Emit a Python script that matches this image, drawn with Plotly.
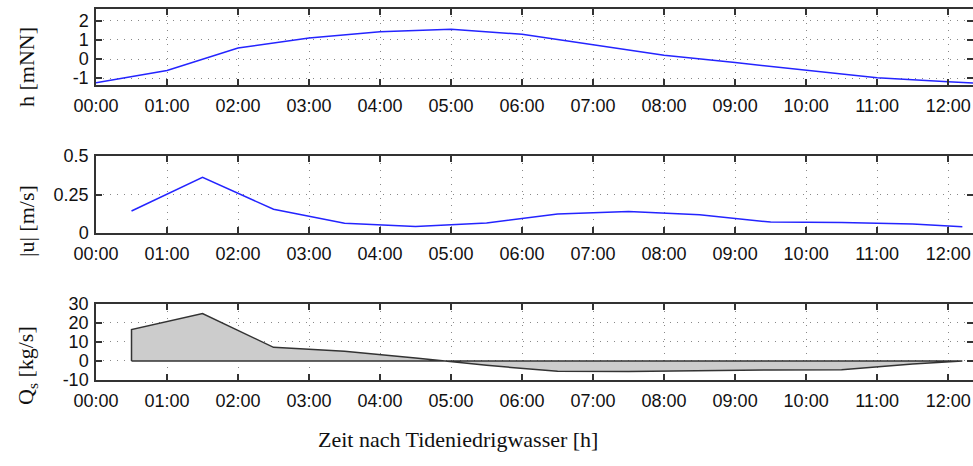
import plotly.graph_objects as go

# ---- data ----
t_h = [0, 1, 2, 3, 4, 5, 6, 7, 8, 9, 10, 11, 12, 12.35]
h_vals = [-1.25, -0.6, 0.58, 1.1, 1.44, 1.56, 1.3, 0.75, 0.2, -0.19, -0.6, -0.98, -1.19, -1.26]

t_u = [0.5, 1.5, 2.5, 3.5, 4.5, 5.5, 6.5, 7.5, 8.5, 9.5, 10.5, 11.5, 12.2]
u_vals = [0.143, 0.362, 0.154, 0.063, 0.043, 0.065, 0.123, 0.14, 0.119, 0.071, 0.069, 0.058, 0.041]

t_q = [0.5, 1.5, 2.5, 3.5, 4.5, 5.5, 6.5, 7.5, 8.5, 9.5, 10.5, 11.5, 12.2]
q_vals = [16.5, 25, 7.2, 5.1, 1.6, -2.3, -5.4, -5.5, -5.0, -4.7, -4.6, -1.6, 0]

x_tickvals = list(range(13))
x_ticktext = ["%02d:00" % i for i in range(13)]

h_ticks = [-1, 0, 1, 2]
h_ticktext = ["-1", "0", "1", "2"]
u_ticks = [0, 0.25, 0.5]
u_ticktext = ["0", "0.25", "0.5"]
q_ticks = [-10, 0, 10, 20, 30]
q_ticktext = ["-10", "0", "10", "20", "30"]

# ---- figure ----
fig = go.Figure()
blue = "#2424ff"
fig.add_trace(go.Scatter(x=t_h, y=h_vals, mode="lines", line=dict(color=blue, width=1.5),
                         xaxis="x", yaxis="y", showlegend=False))
fig.add_trace(go.Scatter(x=t_u, y=u_vals, mode="lines", line=dict(color=blue, width=1.5),
                         xaxis="x2", yaxis="y2", showlegend=False))
# polygon: vertical edge at start, data line, back along zero
poly_x = [t_q[0]] + t_q + [t_q[0]]
poly_y = [0] + q_vals + [0]
fig.add_trace(go.Scatter(x=poly_x, y=poly_y, mode="lines", fill="toself",
                         fillcolor="#cccccc", line=dict(color="#333333", width=1.5),
                         xaxis="x3", yaxis="y3", showlegend=False))

tickfont = dict(family="Liberation Sans, Arial, sans-serif", size=18, color="#111")
axline = dict(showline=True, linecolor="#333", linewidth=1.5, mirror="all",
              ticks="inside", ticklen=6, tickwidth=1.5, tickcolor="#333",
              showgrid=True, gridcolor="#888", gridwidth=1, griddash="1px,6px",
              zeroline=False, tickfont=tickfont)

xr = [0, 12.35]
ydom1 = [0.795, 1.0]
ydom2 = [0.3962, 0.6038]
ydom3 = [0.0, 0.2049]

def xax(anchor):
    d = dict(axline)
    d.update(range=xr, tickvals=x_tickvals, ticktext=x_ticktext, anchor=anchor,
             domain=[0, 1], ticklabelstandoff=4)
    return d

def yax(anchor, dom, rng, tv, tt):
    d = dict(axline)
    d.update(range=rng, tickvals=tv, ticktext=tt, domain=dom, anchor=anchor,
             ticklabelstandoff=2)
    return d

fig.update_layout(
    width=973, height=466,
    margin=dict(l=96, r=0, t=9, b=86, autoexpand=False),
    paper_bgcolor="white", plot_bgcolor="white",
    xaxis=xax("y"),
    xaxis2=xax("y2"),
    xaxis3=xax("y3"),
    yaxis=yax("x", ydom1, [-1.37, 2.63], h_ticks, h_ticktext),
    yaxis2=yax("x2", ydom2, [0, 0.5], u_ticks, u_ticktext),
    yaxis3=yax("x3", ydom3, [-10, 30], q_ticks, q_ticktext),
)

serif = dict(family="Liberation Serif, Times New Roman, serif", size=22, color="#111")
for txt, yp in [("h [mNN]", 0.8437), ("|u| [m/s]", 0.4286), ("Q<sub>s</sub> [kg/s]", 0.0404)]:
    fig.add_annotation(text=txt, xref="paper", yref="paper", x=-0.0787, y=yp,
                       textangle=-90, showarrow=False, font=serif,
                       xanchor="center", yanchor="middle")
fig.add_annotation(text="Zeit nach Tideniedrigwasser [h]", xref="paper", yref="paper",
                   x=0.4128, y=-0.1617, showarrow=False, font=serif,
                   xanchor="center", yanchor="middle")

fig.write_html("out.html",
               config={"displayModeBar": False},
               post_script="document.body.style.margin='0';document.body.style.overflow='hidden';")
